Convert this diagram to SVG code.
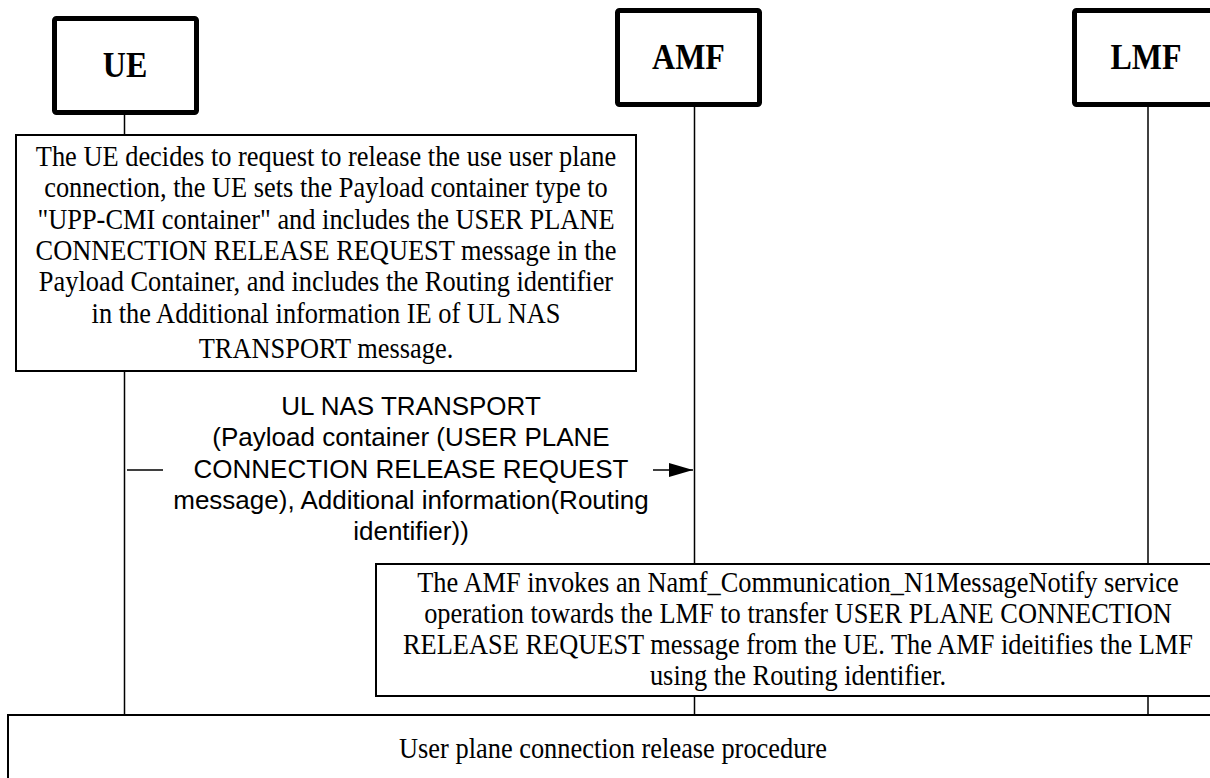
<svg xmlns="http://www.w3.org/2000/svg" width="1210" height="778" viewBox="0 0 1210 778">
<style>
.ent{fill:#fff;stroke:#000;stroke-width:5}
.ent-t{font-family:"Liberation Serif","Times New Roman",serif;font-weight:bold;font-size:34.8px;text-anchor:middle;fill:#000}
.life{stroke:#000;stroke-width:1.5;fill:none}
.box{fill:#fff;stroke:#000;stroke-width:2}
.note{font-family:"Liberation Serif","Times New Roman",serif;font-size:28.7px;text-anchor:middle;fill:#000}
.lbl{font-family:"Liberation Sans",Arial,sans-serif;font-size:26px;text-anchor:middle;fill:#000}
.msg{stroke:#000;stroke-width:1.5;fill:none}
</style>
<defs>
<marker id="ah" markerWidth="24" markerHeight="14" refX="24" refY="7" orient="auto" markerUnits="userSpaceOnUse">
<path d="M0,0 L24,7 L0,14 Z" fill="#000"/>
</marker>
</defs>
<rect width="1210" height="778" fill="#fff"/>
<g id="lifelines">
<line class="life" x1="124.5" y1="115" x2="124.5" y2="715"/>
<line class="life" x1="694.5" y1="107" x2="694.5" y2="715"/>
<line class="life" x1="1148" y1="107" x2="1148" y2="715"/>
</g>
<g id="UE">
<rect class="ent" x="54.5" y="18.5" width="142" height="94" rx="2"/>
<text class="ent-t" transform="scale(0.92,1)" x="135.87" y="77">UE</text>
</g>
<g id="AMF">
<rect class="ent" x="617.5" y="10.5" width="142" height="94" rx="2"/>
<text class="ent-t" transform="scale(0.92,1)" x="748.37" y="69">AMF</text>
</g>
<g id="LMF">
<rect class="ent" x="1074.5" y="10.5" width="142" height="94" rx="2"/>
<text class="ent-t" transform="scale(0.92,1)" x="1245.65" y="69">LMF</text>
</g>
<g id="note-ue">
<rect class="box" x="16" y="135" width="620" height="236"/>
<g transform="scale(0.92,1)">
<text class="note" x="354.35" y="166">The UE decides to request to release the use user plane</text>
<text class="note" x="354.35" y="197">connection, the UE sets the Payload container type to</text>
<text class="note" x="354.35" y="229">"UPP-CMI container" and includes the USER PLANE</text>
<text class="note" x="354.35" y="260">CONNECTION RELEASE REQUEST message in the</text>
<text class="note" x="354.35" y="291">Payload Container, and includes the Routing identifier</text>
<text class="note" x="354.35" y="323">in the Additional information IE of UL NAS</text>
<text class="note" x="354.35" y="358">TRANSPORT message.</text>
</g>
</g>
<g id="connectors">
<path class="msg" d="M127,470 H163 M653,470 H693" marker-end="url(#ah)"/>
</g>
<g id="msg-label">
<text class="lbl" x="411" y="415">UL NAS TRANSPORT</text>
<text class="lbl" x="411" y="446">(Payload container (USER PLANE</text>
<text class="lbl" x="411" y="478">CONNECTION RELEASE REQUEST</text>
<text class="lbl" x="411" y="509">message), Additional information(Routing</text>
<text class="lbl" x="411" y="540">identifier))</text>
</g>
<g id="note-amf">
<rect class="box" x="376" y="564" width="850" height="132"/>
<g transform="scale(0.92,1)">
<text class="note" x="867.39" y="592">The AMF invokes an Namf_Communication_N1MessageNotify service</text>
<text class="note" x="867.39" y="623">operation towards the LMF to transfer USER PLANE CONNECTION</text>
<text class="note" x="867.39" y="654">RELEASE REQUEST message from the UE. The AMF ideitifies the LMF</text>
<text class="note" x="867.39" y="685">using the Routing identifier.</text>
</g>
</g>
<g id="procedure">
<rect class="box" x="8" y="715" width="1212" height="80"/>
<text class="note" transform="scale(0.92,1)" x="666.30" y="758">User plane connection release procedure</text>
</g>
</svg>
